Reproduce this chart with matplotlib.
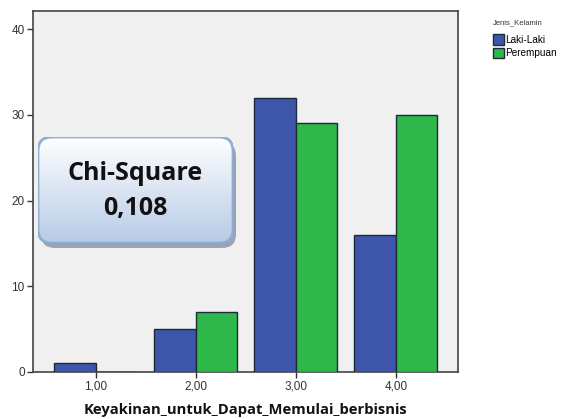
import matplotlib
matplotlib.use("Agg")
import matplotlib.pyplot as plt
import numpy as np
from matplotlib.patches import FancyBboxPatch, Patch
from matplotlib.colors import LinearSegmentedColormap

categories = [1, 2, 3, 4]
tick_labels = ["1,00", "2,00", "3,00", "4,00"]
laki = [1, 5, 32, 16]
perempuan = [0, 7, 29, 30]
series_names = ["Laki-Laki", "Perempuan"]
legend_title = "Jenis_Kelamin"
xlabel = "Keyakinan_untuk_Dapat_Memulai_berbisnis"
yticks = [0, 10, 20, 30, 40]
annot_lines = ["Chi-Square", "0,108"]

c_blue = "#3E56AA"
c_green = "#2EB84A"

fig = plt.figure(figsize=(5.65, 4.19), dpi=100)
ax = fig.add_axes([0.0584, 0.1122, 0.7522, 0.8615])
ax.set_facecolor("#F0F0F0")

w = 0.415
x = np.array(categories, dtype=float)
ax.bar(x - w / 2, laki, width=w, color=c_blue, edgecolor="#1E2A3A", linewidth=1.0, zorder=3)
ax.bar(x + w / 2, perempuan, width=w, color=c_green, edgecolor="#1E2A3A", linewidth=1.0, zorder=3)

ax.set_xlim(0.37, 4.62)
ax.set_ylim(0, 42.1)
ax.set_xticks(categories)
ax.set_xticklabels(tick_labels, fontsize=8.5, family="Liberation Sans", color="#333333")
ax.set_yticks(yticks)
ax.set_yticklabels([str(v) for v in yticks], fontsize=8.5, family="Liberation Sans", color="#333333")
ax.tick_params(axis="both", direction="out", length=4, width=1, color="#333333", pad=2)
for s in ax.spines.values():
    s.set_color("#444444")
    s.set_linewidth(1.2)

ax.set_xlabel(xlabel, fontsize=10.6, fontweight="bold", family="Open Sans", labelpad=8, color="#111111")

# annotation box with gradient
bx0, by0, bw, bh = 38, 176, 195, 106  # pixel coords (from bottom)
sh = FancyBboxPatch((bx0 + 3, by0 - 5), bw, bh, boxstyle="round,pad=0,rounding_size=14",
                    transform=None, facecolor="#8A96A8", edgecolor="none", zorder=5, alpha=0.85)
fig.patches.append(sh)
box = FancyBboxPatch((bx0, by0), bw, bh, boxstyle="round,pad=0,rounding_size=14",
                     transform=None, facecolor="none", edgecolor="#8FAED6", linewidth=2, zorder=7)
grad = np.linspace(0, 1, 256).reshape(-1, 1)
cmap = LinearSegmentedColormap.from_list("g", ["#FFFFFF", "#B7CBE6"])
gax = fig.add_axes([bx0 / 565, by0 / 419, bw / 565, bh / 419], zorder=6)
gax.axis("off")
im = gax.imshow(grad, aspect="auto", cmap=cmap, extent=[0, 1, 0, 1], origin="upper")
clip = FancyBboxPatch((bx0, by0), bw, bh, boxstyle="round,pad=0,rounding_size=14",
                      transform=None, facecolor="none", edgecolor="none")
im.set_clip_path(clip)
gax.add_artist(box)
box.set_transform(None)
gax.text(0.5, 0.66, annot_lines[0], transform=gax.transAxes, ha="center", va="center",
         fontsize=18, fontweight="bold", family="Open Sans", color="#111111")
gax.text(0.5, 0.33, annot_lines[1], transform=gax.transAxes, ha="center", va="center",
         fontsize=18, fontweight="bold", family="Open Sans", color="#111111")

# legend
handles = [Patch(facecolor=c_blue, edgecolor="#1E2A3A", label=series_names[0]),
           Patch(facecolor=c_green, edgecolor="#1E2A3A", label=series_names[1])]
leg = fig.legend(handles=handles, title=legend_title, loc="upper left",
                 bbox_to_anchor=(486 / 565, 1 - 12 / 419), frameon=False,
                 handlelength=1.05, handleheight=1.2,
                 handletextpad=0.15, labelspacing=0.3, borderpad=0.2,
                 prop={"family": "Liberation Sans", "size": 7.2})
leg.get_title().set_family("Liberation Sans")
leg.get_title().set_fontsize(5.5)
leg.get_title().set_color("#333333")
leg._legend_box.align = "left"
leg._legend_box.sep = 6

fig.savefig("out.png", dpi=100)
